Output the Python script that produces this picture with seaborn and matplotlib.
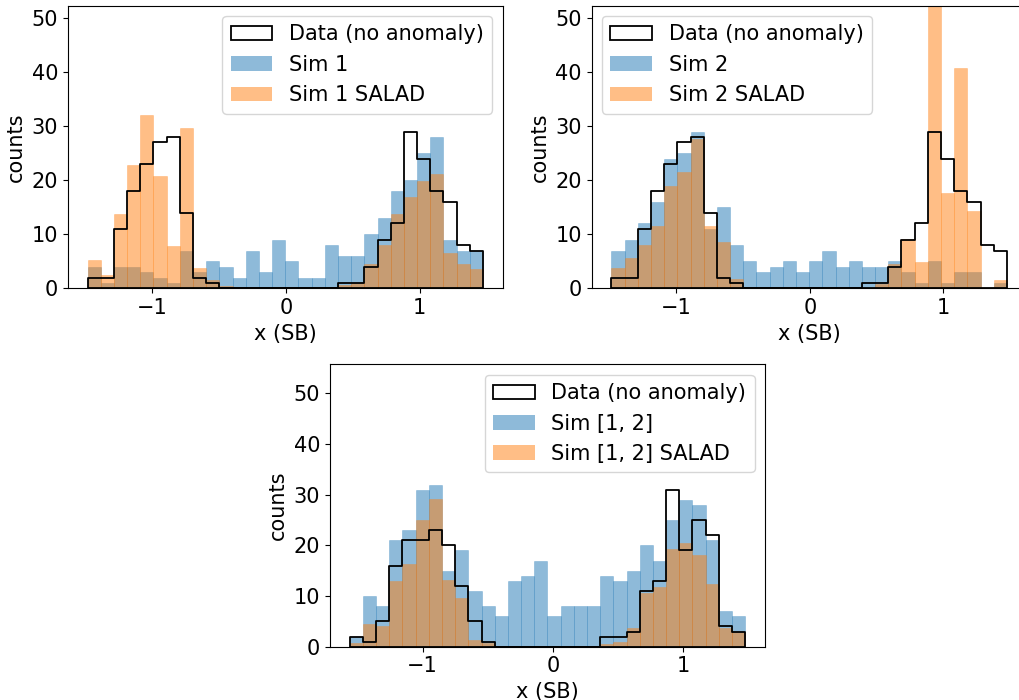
import numpy as np
import pandas as pd
import seaborn as sns
import matplotlib
matplotlib.use("Agg")
import matplotlib.pyplot as plt
from matplotlib.patches import Patch
from matplotlib.colors import to_rgba

# ---- binning ----
top_range = (-1.485, 1.475)
bottom_range = (-1.559, 1.476)
n_bins = 30

# ---- counts per bin ----
data_top = [2, 2, 11, 18, 23, 27, 28, 14, 2, 1, 0, 0, 0, 0, 0,
            0, 0, 0, 0, 1, 1, 4, 9, 12, 29, 24, 18, 16, 8, 7]
sim1 = [4, 1, 4, 4, 3, 2, 1, 7, 3, 5, 4, 2, 7, 3, 9,
        5, 2, 2, 8, 6, 6, 10, 13, 18, 20, 25, 28, 9, 7, 7]
sim1_salad = [5.2, 2.4, 13.8, 22.8, 32.0, 20.8, 7.8, 29.7, 3.7, 1.5, 0.4, 0, 0, 0, 0,
              0, 0, 0, 0.2, 0.55, 1.0, 4.5, 8.0, 13.8, 16.9, 19.9, 21.2, 6.5, 4.5, 3.5]
sim2 = [7, 9, 12, 16, 24, 25, 29, 11, 15, 8, 5, 3, 4, 5, 3,
        5, 7, 4, 5, 4, 4, 5, 3, 1, 5, 1, 3, 3, 0, 1]
sim2_salad = [3.85, 5.6, 8.0, 11.6, 18.9, 21.5, 27.7, 11.6, 8.6, 1.65, 0.2, 0, 0, 0, 0,
              0, 0, 0, 0, 0, 0.8, 4.5, 9.2, 4.8, 55.0, 17.7, 40.8, 14.4, 0, 1.5]
data_bottom = [2, 1, 5, 16, 21, 21, 23, 20, 12, 5, 1, 0, 0, 0, 0,
               0, 0, 0, 0, 2, 2, 3, 11, 13, 31, 19, 25, 22, 4, 3]
sim12 = [2, 10, 8, 21, 23, 31, 32, 15, 19, 11, 8, 6, 13, 14, 17,
         6, 8, 8, 8, 14, 13, 15, 20, 17, 25, 29, 28, 21, 7, 6]
sim12_salad = [0.8, 4.4, 4.1, 13.0, 16.4, 25.0, 29.2, 13.2, 9.6, 1.4, 0.67, 0, 0, 0, 0,
               0, 0, 0, 0, 0.47, 0.93, 3.7, 10.5, 11.8, 19.2, 20.4, 18.0, 12.4, 3.7, 2.9]

labels_top_left = ["Data (no anomaly)", "Sim 1", "Sim 1 SALAD"]
labels_top_right = ["Data (no anomaly)", "Sim 2", "Sim 2 SALAD"]
labels_bottom = ["Data (no anomaly)", "Sim [1, 2]", "Sim [1, 2] SALAD"]

plt.rcParams["font.size"] = 15
plt.rcParams["font.family"] = ["DejaVu Sans"]

fig = plt.figure(figsize=(10.2, 7), dpi=100)
ax1 = fig.add_axes([0.0664, 0.5881, 0.4265, 0.4037])
ax2 = fig.add_axes([0.5801, 0.5881, 0.4265, 0.4037])
ax3 = fig.add_axes([0.3235, 0.0761, 0.4265, 0.4034])

BLUE = "tab:blue"
ORANGE = "tab:orange"


def panel(ax, rng, data, sim, salad, labels, ytop, loc):
    edges = [float(e) for e in np.linspace(rng[0], rng[1], n_bins + 1)]
    centers = [(a + b) / 2 for a, b in zip(edges[:-1], edges[1:])]
    df = pd.DataFrame({"x": centers, "data": data, "sim": sim, "salad": salad})
    sns.histplot(data=df, x="x", weights="sim", bins=edges, ax=ax,
                 color=BLUE, alpha=0.5, edgecolor=to_rgba(BLUE, 0.35),
                 linewidth=0.5)
    sns.histplot(data=df, x="x", weights="salad", bins=edges, ax=ax,
                 color=ORANGE, alpha=0.5, edgecolor=to_rgba(ORANGE, 0.35),
                 linewidth=0.5)
    sns.histplot(data=df, x="x", weights="data", bins=edges, ax=ax,
                 element="step", fill=True, color="black", facecolor="none",
                 edgecolor="black", linewidth=1.3)
    ax.set_ylim(0, ytop)
    ax.set_xticks([-1, 0, 1])
    ax.set_yticks([0, 10, 20, 30, 40, 50])
    ax.set_xlabel("x (SB)")
    ax.set_ylabel("counts")
    handles = [
        Patch(facecolor="none", edgecolor="black", linewidth=1.3, label=labels[0]),
        Patch(facecolor=BLUE, alpha=0.5, label=labels[1]),
        Patch(facecolor=ORANGE, alpha=0.5, label=labels[2]),
    ]
    ax.legend(handles=handles, loc=loc)


panel(ax1, top_range, data_top, sim1, sim1_salad, labels_top_left, 52.3, "upper right")
panel(ax2, top_range, data_top, sim2, sim2_salad, labels_top_right, 52.3, "upper left")
panel(ax3, bottom_range, data_bottom, sim12, sim12_salad, labels_bottom, 55.7, "upper right")

fig.savefig("out.png", dpi=100)
